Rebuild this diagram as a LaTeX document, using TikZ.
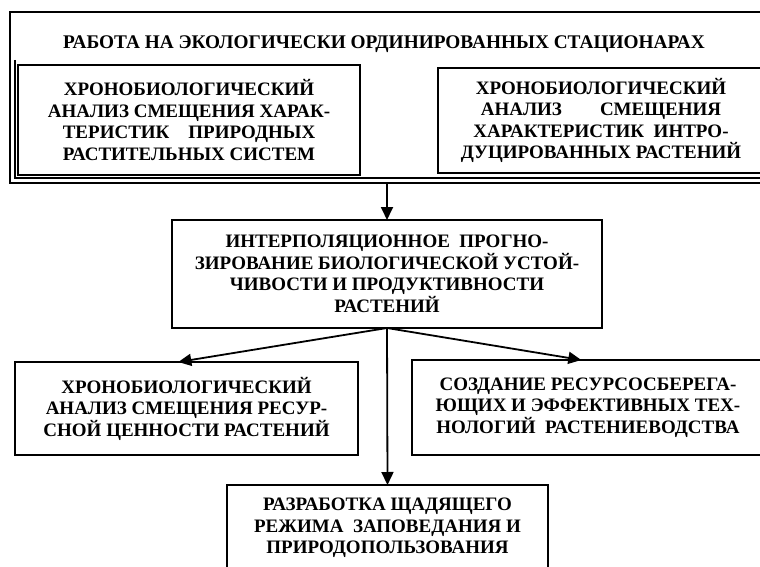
\documentclass[tikz,border=0pt]{standalone}
\usepackage{fontspec}
\setmainfont{Liberation Serif}
\usetikzlibrary{arrows.meta}

\begin{document}
\begin{tikzpicture}[x=1pt, y=-1pt,
    B/.style = {rectangle, draw, line width=2.6pt,% boxes of the scheme
                align=center, inner sep=0pt, outer sep=0pt,
                font=\bfseries\fontsize{19}{21.5}\selectfont},
    T/.style = {inner sep=0pt,% heading inside the big frame
                font=\bfseries\fontsize{19.3}{21.5}\selectfont},
  arr/.style = {line width=1.8pt, -{Triangle[length=13pt,width=12pt]}},
                    ]
\useasboundingbox (0,0) rectangle (760,567);
\clip (0,0) rectangle (760,567);
% big frame with its heading
\node[B, minimum width=758pt, minimum height=171pt] (stat) at (389,97.5) {};
\draw[line width=1.2pt] (15,60) -- (15,178) -- (768,178);
\node[T] (title) at (384,44) {РАБОТА НА ЭКОЛОГИЧЕСКИ ОРДИНИРОВАННЫХ СТАЦИОНАРАХ};
\node[B, minimum width=342pt, minimum height=110pt] (lnat) at (189,120)
    {ХРОНОБИОЛОГИЧЕСКИЙ\\ АНАЛИЗ СМЕЩЕНИЯ ХАРАК-\\ ТЕРИСТИК\quad ПРИРОДНЫХ\\ РАСТИТЕЛЬНЫХ СИСТЕМ};
\node[B, minimum width=326pt, minimum height=105pt] (rintro) at (601,120.5)
    {ХРОНОБИОЛОГИЧЕСКИЙ\\ АНАЛИЗ\qquad СМЕЩЕНИЯ\\ ХАРАКТЕРИСТИК\ \ ИНТРО-\\ ДУЦИРОВАННЫХ РАСТЕНИЙ};
% forecast
\node[B, minimum width=430pt, minimum height=108pt] (mid) at (387,274)
    {ИНТЕРПОЛЯЦИОННОЕ\ \ ПРОГНО-\\ ЗИРОВАНИЕ БИОЛОГИЧЕСКОЙ УСТОЙ-\\ ЧИВОСТИ И ПРОДУКТИВНОСТИ\\ РАСТЕНИЙ};
% results
\node[B, minimum width=343pt, minimum height=93pt] (lres) at (186.5,408.5)
    {ХРОНОБИОЛОГИЧЕСКИЙ\\ АНАЛИЗ СМЕЩЕНИЯ РЕСУР-\\ СНОЙ ЦЕННОСТИ РАСТЕНИЙ};
\node[B, minimum width=352pt, minimum height=95pt] (rtech) at (588,407.5)
    {СОЗДАНИЕ РЕСУРСОСБЕРЕГА-\\ ЮЩИХ И ЭФФЕКТИВНЫХ ТЕХ-\\ НОЛОГИЙ\ \ РАСТЕНИЕВОДСТВА};
\node[B, minimum width=321pt, minimum height=86pt] (regime) at (387.5,528)
    {РАЗРАБОТКА ЩАДЯЩЕГО\\ РЕЖИМА\ \ ЗАПОВЕДАНИЯ И\\ ПРИРОДОПОЛЬЗОВАНИЯ};

\draw[arr] (stat.south -| mid.north) -- (mid.north);
\foreach \t in {lres.100, regime.north, rtech.98}% <-- ends of the arrows
    \draw[arr] (mid.south) -- (\t);
\end{tikzpicture}
\end{document}
